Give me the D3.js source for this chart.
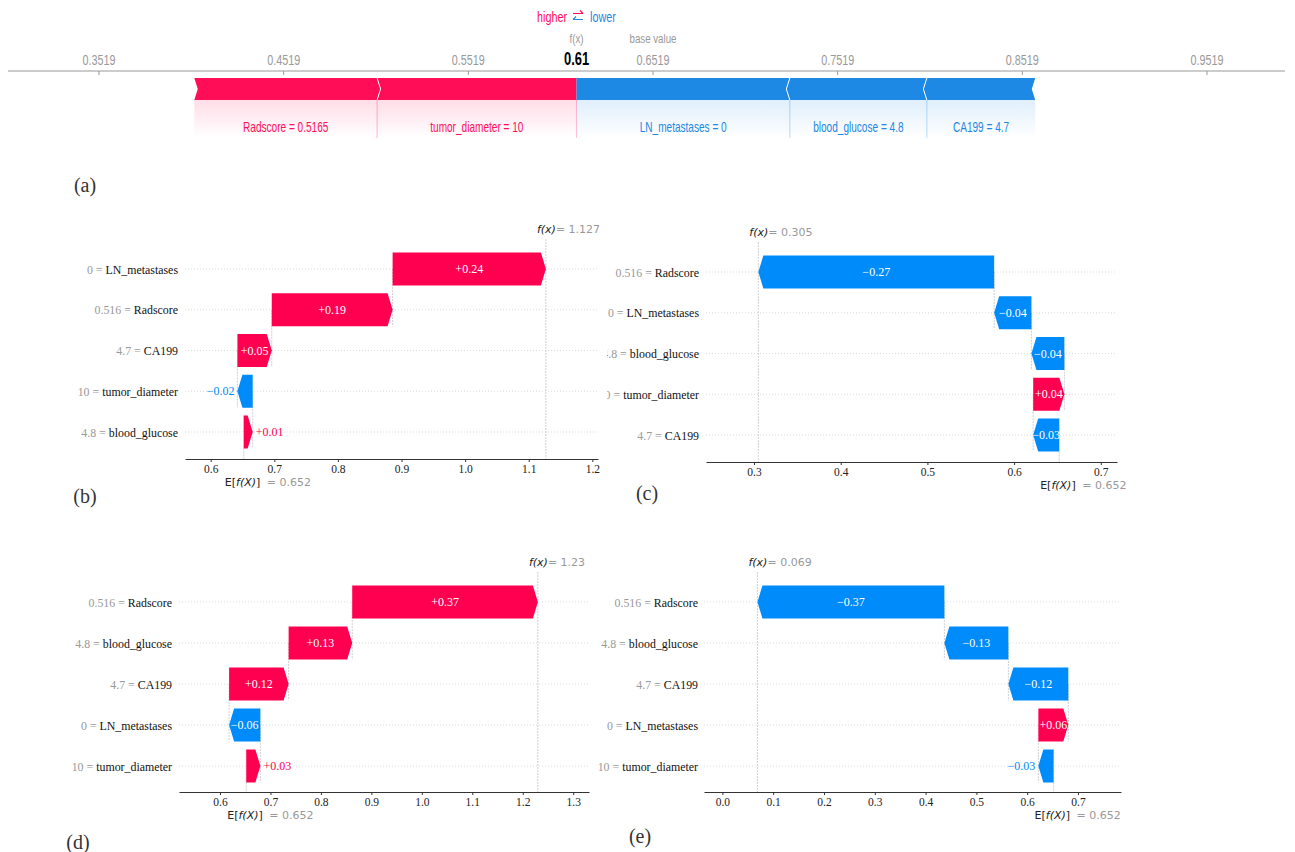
<!DOCTYPE html>
<meta charset="utf-8">
<script src="https://cdn.jsdelivr.net/npm/d3@7"></script>
<style>
body { margin: 0; background: #fff; }
.force text { font-family: "Liberation Sans", Arial, sans-serif; }
.wf text { font-family: "Liberation Serif", "Times New Roman", serif; }
.wf .math { font-family: "DejaVu Sans", sans-serif; font-size: 11px; }
.panel { font-family: "Liberation Serif", serif; font-size: 20px; fill: #333; }
</style>
<body>
<svg id="chart" width="1295" height="852"></svg>
<script>

// (a) force plot
var forceBase = 0.6519;
var forceFx = 0.6105;
var forceLabels = ["Radscore = 0.5165", "tumor_diameter = 10", "LN_metastases = 0", "blood_glucose = 4.8", "CA199 = 4.7"];
var forceShap = [0.099, 0.108, -0.1155, -0.0742, -0.0587];
var forceTicks = [0.3519, 0.4519, 0.5519, 0.6519, 0.7519, 0.8519, 0.9519];

// waterfall panels, features listed top to bottom
var baseValue = 0.652;

var bNames = ["LN_metastases", "Radscore", "CA199", "tumor_diameter", "blood_glucose"];
var bValues = ["0", "0.516", "4.7", "10", "4.8"];
var bShap = [0.241, 0.19, 0.054, -0.024, 0.014];
var bTicks = [0.6, 0.7, 0.8, 0.9, 1.0, 1.1, 1.2];

var cNames = ["Radscore", "LN_metastases", "blood_glucose", "tumor_diameter", "CA199"];
var cValues = ["0.516", "0", "4.8", "10", "4.7"];
var cShap = [-0.272, -0.043, -0.038, 0.036, -0.030];
var cTicks = [0.3, 0.4, 0.5, 0.6, 0.7];

var dNames = ["Radscore", "blood_glucose", "CA199", "LN_metastases", "tumor_diameter"];
var dValues = ["0.516", "4.8", "4.7", "0", "10"];
var dShap = [0.368, 0.126, 0.118, -0.062, 0.028];
var dTicks = [0.6, 0.7, 0.8, 0.9, 1.0, 1.1, 1.2, 1.3];

var eNames = ["Radscore", "blood_glucose", "CA199", "LN_metastases", "tumor_diameter"];
var eValues = ["0.516", "4.8", "4.7", "0", "10"];
var eShap = [-0.368, -0.126, -0.118, 0.059, -0.03];
var eTicks = [0.0, 0.1, 0.2, 0.3, 0.4, 0.5, 0.6, 0.7];

var svg = d3.select("#chart");
var defs = svg.append("defs");

var RED = "#ff0d57", BLUE = "#1e88e5";
var WRED = "#ff0051", WBLUE = "#008bfb";

function fmt3(v) { return d3.format(".3f")(v).replace(/0+$/, "").replace(/\.$/, ""); }

// narrow text: the figure's labels are horizontally squeezed
function squeeze(sel, x, y, sx) {
  return sel.attr("transform", "translate(" + x + "," + y + ") scale(" + sx + ",1)");
}

// ---------- force plot ----------
(function() {
  var g = svg.append("g").attr("class", "force");
  var x = d3.scaleLinear().domain([forceTicks[0], forceTicks[forceTicks.length - 1]]).range([99, 1207]);
  var axisY = 71, top = 78, bot = 100, mid = (top + bot) / 2, t = 3.5, sx = 0.72;

  [["lg-red", RED], ["lg-blue", BLUE]].forEach(function(c) {
    var lg = defs.append("linearGradient").attr("id", c[0]).attr("x1", 0).attr("x2", 0).attr("y1", 0).attr("y2", 1);
    lg.append("stop").attr("offset", 0).attr("stop-color", c[1]).attr("stop-opacity", 0.14);
    lg.append("stop").attr("offset", 1).attr("stop-color", c[1]).attr("stop-opacity", 0);
  });

  squeeze(g.append("text"), 567, 22, sx).attr("text-anchor", "end")
    .attr("fill", RED).style("font-size", "15px").text("higher");
  squeeze(g.append("text"), 590, 22, sx)
    .attr("fill", BLUE).style("font-size", "15px").text("lower");
  g.append("path").attr("d", "M573,13.5H583M580,10.5L583,13.5").attr("stroke", RED).attr("fill", "none").attr("stroke-width", 1.2);
  g.append("path").attr("d", "M573,19.5H583M576,16.5L573,19.5").attr("stroke", BLUE).attr("fill", "none").attr("stroke-width", 1.2);

  g.append("line").attr("x1", 8).attr("x2", 1285).attr("y1", axisY).attr("y2", axisY)
    .attr("stroke", "#999").attr("stroke-width", 1);
  g.selectAll(".tk").data(forceTicks).enter().append("line")
    .attr("x1", x).attr("x2", x).attr("y1", axisY).attr("y2", axisY + 4)
    .attr("stroke", "#999");
  g.selectAll(".tl").data(forceTicks).enter().append("text")
    .attr("transform", function(d) { return "translate(" + x(d) + ",65) scale(" + sx + ",1)"; })
    .attr("text-anchor", "middle")
    .attr("fill", "#999").style("font-size", "15px")
    .text(function(d) { return d3.format(".4f")(d); });

  squeeze(g.append("text"), x(forceFx), 43, sx).attr("text-anchor", "middle")
    .attr("fill", "#999").style("font-size", "13.5px").text("f(x)");
  squeeze(g.append("text"), x(forceFx), 65, sx).attr("text-anchor", "middle")
    .attr("fill", "#000").style("font-size", "18px").style("font-weight", "bold").text(d3.format(".2f")(forceFx));
  squeeze(g.append("text"), x(forceBase), 43, sx).attr("text-anchor", "middle")
    .attr("fill", "#999").style("font-size", "13.5px").text("base value");

  // segments
  var segs = [];
  var pos = forceShap.map(function(v, i) { return {v: v, label: forceLabels[i]}; }).filter(function(d) { return d.v > 0; });
  var neg = forceShap.map(function(v, i) { return {v: v, label: forceLabels[i]}; }).filter(function(d) { return d.v < 0; });
  var cur = forceFx - d3.sum(pos, function(d) { return d.v; });
  pos.forEach(function(d, i) { segs.push({a: cur, b: cur + d.v, pos: true, last: i === pos.length - 1, first: i === 0, label: d.label}); cur += d.v; });
  cur = forceFx;
  neg.forEach(function(d, i) { segs.push({a: cur, b: cur - d.v, pos: false, first: i === 0, last: i === neg.length - 1, label: d.label}); cur -= d.v; });

  function pts(d) {
    var a = x(d.a), b = x(d.b);
    if (d.pos) {
      var p = [[a, top], [b, top]];
      if (!d.last) p.push([b + t, mid]);
      p.push([b, bot], [a, bot], [a + t, mid]);
      return p;
    }
    var q = [[a, top], [b, top], [b - t, mid], [b, bot], [a, bot]];
    if (!d.first) q.push([a - t, mid]);
    return q;
  }

  g.selectAll(".band").data(segs).enter().append("rect")
    .attr("x", function(d) { return x(d.a); }).attr("width", function(d) { return x(d.b) - x(d.a); })
    .attr("y", bot).attr("height", 38)
    .attr("fill", function(d) { return d.pos ? "url(#lg-red)" : "url(#lg-blue)"; });
  g.selectAll(".bline").data(segs.filter(function(d) { return !(d.pos && d.first) && !(!d.pos && d.last); })).enter().append("line")
    .attr("x1", function(d) { return d.pos ? x(d.a) : x(d.b); })
    .attr("x2", function(d) { return d.pos ? x(d.a) : x(d.b); })
    .attr("y1", bot).attr("y2", bot + 38)
    .attr("stroke", function(d) { return d.pos ? RED : BLUE; }).attr("stroke-opacity", 0.3);
  g.append("line").attr("x1", x(forceFx)).attr("x2", x(forceFx)).attr("y1", bot).attr("y2", bot + 38)
    .attr("stroke", RED).attr("stroke-opacity", 0.25);

  g.selectAll(".seg").data(segs).enter().append("polygon")
    .attr("points", function(d) { return pts(d).join(" "); })
    .attr("fill", function(d) { return d.pos ? RED : BLUE; });
  g.selectAll(".sep").data(segs.filter(function(d) { return (d.pos && !d.last) || (!d.pos && !d.first); })).enter().append("polyline")
    .attr("points", function(d) {
      return d.pos ? [[x(d.b), top], [x(d.b) + t, mid], [x(d.b), bot]].join(" ")
                   : [[x(d.a), top], [x(d.a) - t, mid], [x(d.a), bot]].join(" ");
    })
    .attr("fill", "none").attr("stroke", "#fff").attr("stroke-width", 1);

  g.selectAll(".lab").data(segs).enter().append("text")
    .attr("transform", function(d) { return "translate(" + (x(d.a) + x(d.b)) / 2 + ",132) scale(" + sx + ",1)"; })
    .attr("text-anchor", "middle").style("font-size", "14px")
    .attr("fill", function(d) { return d.pos ? RED : BLUE; })
    .text(function(d) { return d.label; });
})();

// ---------- waterfall panels ----------
defs.append("clipPath").attr("id", "clip-c").append("rect")
  .attr("x", 607).attr("y", 200).attr("width", 600).attr("height", 320);

var panels = [
  {names: bNames, values: bValues, shap: bShap, ticks: bTicks, domain: [0.5596, 1.2089], range: [185, 598], rows: [269, 432], axisY: 459, labelX: 178},
  {names: cNames, values: cValues, shap: cShap, ticks: cTicks, domain: [0.2446, 0.7187], range: [706, 1117], rows: [272, 435], axisY: 462, labelX: 699, clip: "clip-c"},
  {names: dNames, values: dValues, shap: dShap, ticks: dTicks, domain: [0.5187, 1.3313], range: [179, 589], rows: [602, 766], axisY: 792, labelX: 172},
  {names: eNames, values: eValues, shap: eShap, ticks: eTicks, domain: [-0.0362, 0.7847], range: [704, 1121], rows: [602, 766], axisY: 792, labelX: 698}
];

panels.forEach(function(p) {
  var g = svg.append("g").attr("class", "wf");
  if (p.clip) g.attr("clip-path", "url(#" + p.clip + ")");
  var x = d3.scaleLinear().domain(p.domain).range(p.range);
  var y = d3.scalePoint().domain(p.names).range(p.rows);
  var barH = 33, head = 5, n = p.names.length;

  var bars = [], start = baseValue;
  for (var i = n - 1; i >= 0; i--) {
    bars[i] = {name: p.names[i], value: p.values[i], shap: p.shap[i], x0: start, x1: start + p.shap[i]};
    start += p.shap[i];
  }
  var fx = start;

  g.selectAll(".grid").data(bars).enter().append("line")
    .attr("x1", p.range[0]).attr("x2", p.range[1])
    .attr("y1", function(d) { return y(d.name); }).attr("y2", function(d) { return y(d.name); })
    .attr("stroke", "#ccc").attr("stroke-width", 0.7).attr("stroke-dasharray", "1,2");

  // connectors between consecutive bars
  g.selectAll(".conn").data(bars.slice(1)).enter().append("line")
    .attr("x1", function(d) { return x(d.x1); }).attr("x2", function(d) { return x(d.x1); })
    .attr("y1", function(d, i) { return y(p.names[i]); })
    .attr("y2", function(d) { return y(d.name) + barH / 2; })
    .attr("stroke", "#bbb").attr("stroke-width", 0.7).attr("stroke-dasharray", "2,1");
  g.append("line").attr("x1", x(baseValue)).attr("x2", x(baseValue))
    .attr("y1", y(p.names[n - 1]) - barH / 2).attr("y2", p.axisY)
    .attr("stroke", "#bbb").attr("stroke-width", 0.7).attr("stroke-dasharray", "2,1");
  g.append("line").attr("x1", x(fx)).attr("x2", x(fx))
    .attr("y1", p.rows[0] - 30).attr("y2", p.axisY)
    .attr("stroke", "#bbb").attr("stroke-width", 0.7).attr("stroke-dasharray", "2,1");

  g.selectAll(".bar").data(bars).enter().append("polygon")
    .attr("points", function(d) {
      var a = x(d.x0), b = x(d.x1), tp = y(d.name) - barH / 2, m = y(d.name), bt = tp + barH;
      var h = Math.min(head, Math.abs(b - a)), s = b > a ? 1 : -1;
      return [[a, tp], [b - s * h, tp], [b, m], [b - s * h, bt], [a, bt]].join(" ");
    })
    .attr("fill", function(d) { return d.shap > 0 ? WRED : WBLUE; });

  g.selectAll(".val").data(bars).enter().append("text")
    .each(function(d) {
      var a = x(d.x0), b = x(d.x1), w = Math.abs(b - a), t = d3.select(this);
      t.attr("y", y(d.name)).attr("dy", "0.35em").style("font-size", "12px")
        .text(d3.format("+.2f")(d.shap));
      if (w > 20) {
        t.attr("x", (a + b) / 2).attr("text-anchor", "middle").attr("fill", "#fff");
      } else if (d.shap > 0) {
        t.attr("x", b + 3).attr("text-anchor", "start").attr("fill", WRED);
      } else {
        t.attr("x", b - 3).attr("text-anchor", "end").attr("fill", WBLUE);
      }
    });

  var lab = g.selectAll(".lab").data(bars).enter().append("text")
    .attr("transform", function(d) { return "translate(" + p.labelX + "," + y(d.name) + ") scale(0.88,1)"; })
    .attr("dy", "0.35em").attr("text-anchor", "end").style("font-size", "13.5px");
  lab.append("tspan").attr("fill", "#999").text(function(d) { return d.value + " = "; });
  lab.append("tspan").attr("fill", "#111").text(function(d) { return d.name; });

  var ax = g.append("g").attr("transform", "translate(0," + p.axisY + ")")
    .call(d3.axisBottom(x).tickValues(p.ticks).tickFormat(d3.format(".1f")).tickSize(3).tickSizeOuter(0));
  ax.select(".domain").attr("stroke", "#333");
  ax.selectAll(".tick line").attr("stroke", "#333");
  ax.selectAll(".tick text").attr("fill", "#222").attr("y", 6)
    .style("font-family", "Liberation Serif, serif").style("font-size", "11.5px");

  var ft = g.append("text").attr("class", "math").attr("x", x(fx) - 9).attr("y", p.rows[0] - 36);
  ft.append("tspan").attr("fill", "#222").style("font-style", "italic").text("f(x)");
  ft.append("tspan").attr("fill", "#999").attr("x", x(fx) + 10).text("= " + fmt3(fx));

  var et = g.append("text").attr("class", "math").attr("x", x(baseValue) - 19).attr("y", p.axisY + 27);
  et.append("tspan").attr("fill", "#222").text("E[");
  et.append("tspan").attr("fill", "#222").style("font-style", "italic").text("f(X)");
  et.append("tspan").attr("fill", "#222").text("]");
  et.append("tspan").attr("fill", "#999").attr("x", x(baseValue) + 23).text("= " + fmt3(baseValue));
});

// panel letters
var letters = [["(a)", 85, 192], ["(b)", 85, 503], ["(c)", 647, 500], ["(d)", 78, 849], ["(e)", 640, 843]];
svg.selectAll(".panel").data(letters).enter().append("text")
  .attr("class", "panel").attr("x", function(d) { return d[1]; }).attr("y", function(d) { return d[2]; })
  .attr("text-anchor", "middle").text(function(d) { return d[0]; });

</script>
</body>
